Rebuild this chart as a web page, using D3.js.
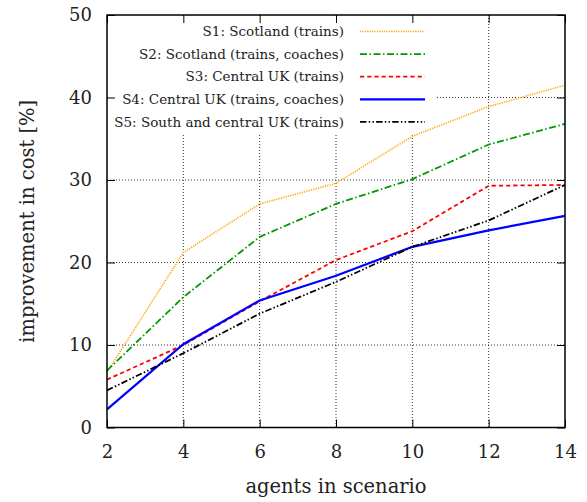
<!DOCTYPE html>
<html><head><meta charset="utf-8">
<script src="https://cdn.jsdelivr.net/npm/d3@7"></script>
<style>body{margin:0;background:#fff}svg{display:block}text{font-family:"DejaVu Serif",serif;fill:#222}</style>
</head><body><div id="chart"></div>
<script>
const agents = [2, 4, 6, 8, 10, 12, 14];
const s1 = [6.7, 21.2, 27.1, 29.6, 35.3, 38.9, 41.5];
const s2 = [6.9, 15.8, 23.1, 27.1, 30.1, 34.3, 36.8];
const s3 = [5.8, 10.0, 15.3, 20.3, 23.8, 29.3, 29.4];
const s4 = [2.2, 10.1, 15.4, 18.4, 21.9, 23.9, 25.65];
const s5 = [4.5, 9.0, 13.8, 17.65, 21.9, 25.1, 29.4];
const seriesNames = ["S1: Scotland (trains)", "S2: Scotland (trains, coaches)", "S3: Central UK (trains)", "S4: Central UK (trains, coaches)", "S5: South and central UK (trains)"];
const xTicks = [2, 4, 6, 8, 10, 12, 14];
const yTicks = [0, 10, 20, 30, 40, 50];

const styles = [
  {color:"#ffa500", width:1.6, dash:"1.2,1.2"},
  {color:"#009900", width:1.8, dash:"7,2.5,1.5,2.5"},
  {color:"#ff0000", width:1.8, dash:"4.2,3"},
  {color:"#0000ff", width:2.2, dash:null},
  {color:"#000000", width:1.8, dash:"6.5,2.2,1.5,2.2,1.5,2.2"}
];
const allSeries = [s1, s2, s3, s4, s5];

const W = 587, H = 502;
const m = {left:107, right:565, top:15, bottom:427.5};
const svg = d3.select("#chart").append("svg").attr("width", W).attr("height", H);
const x = d3.scaleLinear().domain([2, 14]).range([m.left, m.right]);
const y = d3.scaleLinear().domain([0, 50]).range([m.bottom, m.top]);

// grid
const grid = svg.append("g");
grid.selectAll(".gx").data(xTicks.slice(1, -1)).join("line")
  .attr("x1", d => x(d)).attr("x2", d => x(d)).attr("y1", m.top).attr("y2", m.bottom)
  .attr("stroke", "#000").attr("stroke-width", 0.8).attr("stroke-dasharray", "1,2");
grid.selectAll(".gy").data(yTicks.slice(1, -1)).join("line")
  .attr("y1", d => y(d)).attr("y2", d => y(d)).attr("x1", m.left).attr("x2", m.right)
  .attr("stroke", "#000").attr("stroke-width", 0.8).attr("stroke-dasharray", "1,2");

// legend background box
svg.append("rect").attr("x", m.left + 1).attr("y", m.top + 1)
  .attr("width", 437 - m.left - 1).attr("height", 134 - m.top - 1).attr("fill", "#fff");

// axes with inner ticks (mirrored)
const tl = 8;
const xb = d3.axisBottom(x).tickValues(xTicks).tickSize(-tl).tickPadding(18);
const xt = d3.axisTop(x).tickValues(xTicks).tickSize(-tl).tickFormat("");
const yl = d3.axisLeft(y).tickValues(yTicks).tickSize(-tl).tickPadding(15);
const yr = d3.axisRight(y).tickValues(yTicks).tickSize(-tl).tickFormat("");
function styleAxis(g){
  g.select(".domain").remove();
  g.selectAll("line").attr("stroke", "#000").attr("stroke-width", 1);
  g.selectAll("text").style("font-family", "'DejaVu Serif',serif").style("font-size", "18px").attr("fill", "#222");
}
svg.append("g").attr("transform", `translate(0,${m.bottom})`).call(xb).call(styleAxis);
svg.append("g").attr("transform", `translate(0,${m.top})`).call(xt).call(styleAxis);
svg.append("g").attr("transform", `translate(${m.left},0)`).call(yl).call(styleAxis);
svg.append("g").attr("transform", `translate(${m.right},0)`).call(yr).call(styleAxis);

// data lines
const line = d3.line().x((d, i) => x(agents[i])).y(d => y(d));
allSeries.forEach((s, k) => {
  svg.append("path").datum(s).attr("d", line).attr("fill", "none")
    .attr("stroke", styles[k].color).attr("stroke-width", styles[k].width)
    .attr("stroke-dasharray", styles[k].dash);
});

// frame
svg.append("rect").attr("x", m.left).attr("y", m.top).attr("width", m.right - m.left)
  .attr("height", m.bottom - m.top).attr("fill", "none").attr("stroke", "#000").attr("stroke-width", 1.5);

// legend
const lg = svg.append("g");
seriesNames.forEach((n, k) => {
  const yy = 31.5 + k * 22.6;
  lg.append("text").attr("x", 344).attr("y", yy).attr("dy", "0.35em").attr("text-anchor", "end")
    .style("font-size", "13.5px").text(n);
  lg.append("line").attr("x1", 360).attr("x2", 425).attr("y1", yy).attr("y2", yy)
    .attr("stroke", styles[k].color).attr("stroke-width", styles[k].width)
    .attr("stroke-dasharray", styles[k].dash);
});

// axis titles
svg.append("text").attr("x", (m.left + m.right) / 2).attr("y", 493).attr("text-anchor", "middle")
  .style("font-size", "19.5px").text("agents in scenario");
svg.append("text").attr("transform", `translate(34,${(m.top + m.bottom) / 2}) rotate(-90)`)
  .attr("text-anchor", "middle").style("font-size", "19.5px").text("improvement in cost [%]");
</script></body></html>
